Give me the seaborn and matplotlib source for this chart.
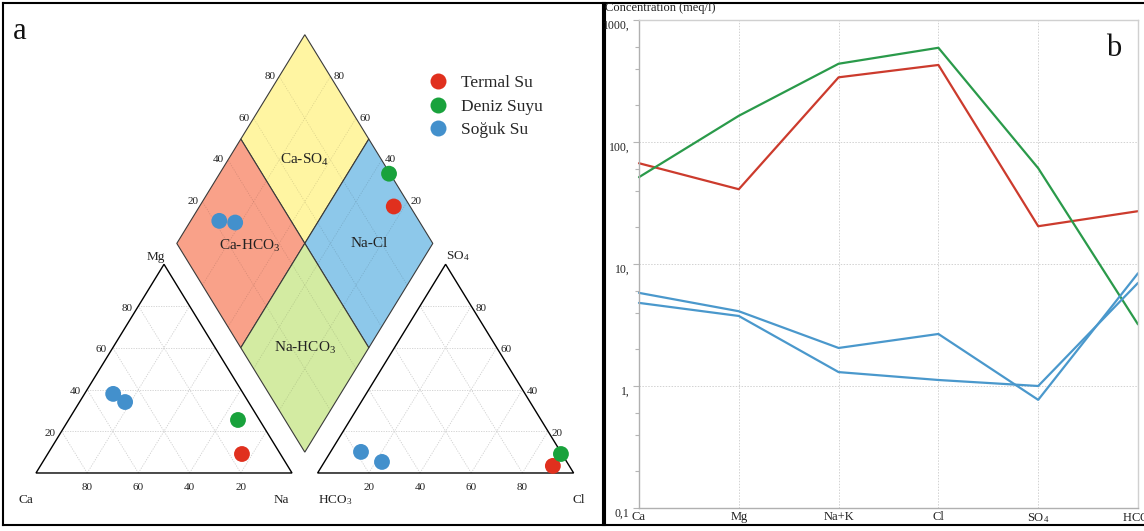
import numpy as np
import pandas as pd
import matplotlib
matplotlib.use("Agg")
import matplotlib.pyplot as plt
import seaborn as sns
from matplotlib.patches import Polygon
from matplotlib.lines import Line2D
from matplotlib.ticker import FixedLocator, FixedFormatter, LogLocator, NullFormatter

sns.set_theme(style="white")
plt.rcParams["font.family"] = ["Liberation Serif", "DejaVu Serif"]
plt.rcParams["mathtext.fontset"] = "custom"
plt.rcParams["mathtext.rm"] = "Liberation Serif"
plt.rcParams["mathtext.it"] = "Liberation Serif:italic"
plt.rcParams["mathtext.bf"] = "Liberation Serif:bold"

# ---------------------------------------------------------------- data
groups = ["Termal Su", "Deniz Suyu", "Soğuk Su"]

# Schoeller diagram, concentrations in meq/l
ions = ["Ca", "Mg", "Na+K", "Cl", "SO$_4$", "HCO$_3$"]
termal_meq = [67.0, 41.0, 339.0, 428.0, 20.4, 27.1]
deniz_meq = [51.5, 164.0, 438.0, 592.0, 61.0, 3.2]
soguk1_meq = [5.8, 4.1, 2.05, 2.67, 0.77, 8.4]
soguk2_meq = [4.8, 3.75, 1.30, 1.12, 1.00, 7.0]

# Piper diagram, percentages of total cations / anions
piper_groups = ["Termal Su", "Deniz Suyu", "Soğuk Su", "Soğuk Su"]
ca_pct = [15.0, 8.4, 48.2, 50.9]
mg_pct = [9.1, 25.4, 34.0, 37.9]
na_pct = [75.9, 66.2, 17.8, 11.2]
hco3_pct = [6.4, 0.4, 72.2, 78.0]
so4_pct = [3.4, 9.1, 5.3, 10.1]
cl_pct = [90.2, 90.5, 22.5, 11.9]

grid_pct = [20, 40, 60, 80]

dot_colors = {"Termal Su": "#E0301E", "Deniz Suyu": "#19A23C", "Soğuk Su": "#4390CC"}
line_colors = {"Termal Su": "#CC3B2D", "Deniz Suyu": "#2A9A4A", "Soğuk Su": "#4A98CC"}
field_colors = {"Ca-SO$_4$": "#FFF5A2", "Ca-HCO$_3$": "#F9A189",
                "Na-Cl": "#8DC8EA", "Na-HCO$_3$": "#D3EBA2"}

# ---------------------------------------------------------------- Piper geometry
H = np.sqrt(3) / 2
GAP = 0.1
AX0 = 1 + GAP  # left corner of the anion triangle


def cation_xy(mg, na):
    return na + mg / 2, mg * H


def anion_xy(so4, cl):
    return AX0 + cl + so4 / 2, so4 * H


def diamond_xy(a, b):
    # a = (Ca+Mg) fraction, b = (SO4+Cl) fraction
    return 1 + GAP / 2 - a / 2 + b / 2, GAP * H + H * (a + b)


W, HP = 1144, 531


def box(x0, y0, x1, y1):
    return [x0 / W, 1 - y1 / HP, (x1 - x0) / W, (y1 - y0) / HP]


fig = plt.figure(figsize=(11.44, 5.31), dpi=100)

# ---------------------------------------------------------------- panel a
ax = fig.add_axes(box(3, 3, 603, 525))
ax.set_xlim(-0.1289, 2.2148)
ax.set_ylim(-0.2158, 1.9502)
ax.set_xticks([])
ax.set_yticks([])
for s in ax.spines.values():
    s.set_color("black")
    s.set_linewidth(1.5)

gcol = "#cfcfcf"
gkw = dict(color=gcol, lw=0.6, ls=(0, (1.5, 1.5)), zorder=1)

# triangle grids
for p in np.array(grid_pct) / 100:
    for x0 in (0, AX0):
        ax.plot([x0 + p / 2, x0 + 1 - p / 2], [p * H, p * H], **gkw)
        ax.plot([x0 + p, x0 + p + (1 - p) / 2], [0, (1 - p) * H], **gkw)
        ax.plot([x0 + 1 - p, x0 + (1 - p) / 2], [0, (1 - p) * H], **gkw)

# triangle outlines
for x0 in (0, AX0):
    ax.add_patch(Polygon([[x0, 0], [x0 + 1, 0], [x0 + 0.5, H]], closed=True,
                         fill=False, ec="black", lw=1.0, zorder=3))

# diamond fields
fields = {
    "Ca-SO$_4$": ((0.5, 1.0), (0.5, 1.0)),
    "Ca-HCO$_3$": ((0.5, 1.0), (0.0, 0.5)),
    "Na-Cl": ((0.0, 0.5), (0.5, 1.0)),
    "Na-HCO$_3$": ((0.0, 0.5), (0.0, 0.5)),
}
for name, ((a0, a1), (b0, b1)) in fields.items():
    pts = [diamond_xy(a0, b0), diamond_xy(a1, b0), diamond_xy(a1, b1), diamond_xy(a0, b1)]
    ax.add_patch(Polygon(pts, closed=True, fc=field_colors[name], ec="#3a3a3a",
                         lw=0.8, zorder=2))

# diamond grid
dgkw = dict(color="#000000", alpha=0.12, lw=0.6, ls=(0, (1.5, 1.5)), zorder=2.5)
for p in np.array(grid_pct) / 100:
    xs, ys = zip(diamond_xy(p, 0), diamond_xy(p, 1))
    ax.plot(xs, ys, **dgkw)
    xs, ys = zip(diamond_xy(0, p), diamond_xy(1, p))
    ax.plot(xs, ys, **dgkw)

label_pos = {"Ca-SO$_4$": (0.70, 0.70), "Ca-HCO$_3$": (0.71, 0.28),
             "Na-Cl": (0.25, 0.75), "Na-HCO$_3$": (0.25, 0.25)}
for name, (a, b) in label_pos.items():
    x, y = diamond_xy(a, b)
    ax.text(x, y, name, ha="center", va="center", fontsize=11, color="#222222", zorder=4)

# axis numbers
tk = dict(fontsize=8, color="#222222", zorder=4)
dx, dy = 1 / 256, 1 / 241  # one pixel in data units
for v in grid_pct:
    p = v / 100
    # cation triangle: Ca along base, Mg along left side
    ax.text(1 - p, -15 * dy, str(v), ha="center", va="center", **tk)
    x, y = cation_xy(p, 0)
    ax.text(x - 6 * dx, y - 2 * dy, str(v), ha="right", va="center", **tk)
    # anion triangle: Cl along base, SO4 along right side
    ax.text(AX0 + p, -15 * dy, str(v), ha="center", va="center", **tk)
    x, y = anion_xy(p, 1 - p)
    ax.text(x + 4 * dx, y - 2 * dy, str(v), ha="left", va="center", **tk)
    # diamond upper edges
    x, y = diamond_xy(1, p)
    ax.text(x - 4 * dx, y, str(v), ha="right", va="center", **tk)
    x, y = diamond_xy(p, 1)
    ax.text(x + 3 * dx, y, str(v), ha="left", va="center", **tk)

ck = dict(fontsize=9.5, color="#222222", zorder=4)
ax.text(0.5 - 8 * dx, H + 1 * dy, "Mg", ha="center", va="bottom", **ck)
ax.text(AX0 + 0.5, H + 1 * dy, "SO$_4$", ha="left", va="bottom", **ck)
ax.text(-0.04, -27 * dy, "Ca", ha="center", va="center", **ck)
ax.text(0.96, -27 * dy, "Na", ha="center", va="center", **ck)
ax.text(AX0, -27 * dy, "HCO$_3$", ha="left", va="center", **ck)
ax.text(AX0 + 1.02, -27 * dy, "Cl", ha="center", va="center", **ck)

# sample points
mg = np.array(mg_pct) / 100
na = np.array(na_pct) / 100
so4 = np.array(so4_pct) / 100
cl = np.array(cl_pct) / 100
hco3 = np.array(hco3_pct) / 100
cx, cy = cation_xy(mg, na)
axx, axy = anion_xy(so4, cl)
dxp, dyp = diamond_xy(1 - na, 1 - hco3)
pts = pd.DataFrame({
    "x": np.concatenate([cx, axx, dxp]),
    "y": np.concatenate([cy, axy, dyp]),
    "group": piper_groups * 3,
})
sns.scatterplot(data=pts, x="x", y="y", hue="group", palette=dot_colors, s=130,
                linewidth=0, legend=False, ax=ax, zorder=6)
ax.set_xlabel("")
ax.set_ylabel("")

handles = [Line2D([], [], marker="o", ls="", color=dot_colors[g], markersize=11.5,
                  markeredgewidth=0) for g in groups]
ax.legend(handles, groups, loc="upper left", bbox_to_anchor=(0.711, 0.862),
          frameon=False, fontsize=12.5, handlelength=1.0, handletextpad=0.78,
          labelspacing=0.42, borderpad=0, borderaxespad=0)

ax.text(0.027, 0.945, "a", transform=ax.transAxes, fontsize=22, ha="center",
        va="center", color="#111111")

# ---------------------------------------------------------------- panel b
frame = fig.add_axes(box(605, 3, 1152, 525))
frame.set_xticks([])
frame.set_yticks([])
for s in frame.spines.values():
    s.set_color("black")
    s.set_linewidth(1.5)

bx = fig.add_axes(box(639, 20, 1138, 508))
bx.patch.set_alpha(0)
rows = []
series = [("Termal Su", "t", termal_meq), ("Deniz Suyu", "d", deniz_meq),
          ("Soğuk Su", "s1", soguk1_meq), ("Soğuk Su", "s2", soguk2_meq)]
for grp, sid, vals in series:
    for i, v in enumerate(vals):
        rows.append({"pos": i, "meq": v, "sample": sid, "group": grp})
sch = pd.DataFrame(rows)
sid_colors = {sid: line_colors[grp] for grp, sid, _ in series}
sns.lineplot(data=sch, x="pos", y="meq", hue="sample", palette=sid_colors,
             estimator=None, sort=False, lw=1.6, legend=False, ax=bx, clip_on=False)
bx.set_yscale("log")
bx.set_ylim(0.1, 1000)
bx.set_xlim(0, len(ions) - 1)
bx.set_xlabel("")
bx.set_ylabel("")

bx.yaxis.set_major_locator(FixedLocator([0.1, 1, 10, 100, 1000]))
bx.yaxis.set_major_formatter(FixedFormatter(["0,1", "1,", "10,", "100,", "1000,"]))
bx.yaxis.set_minor_locator(LogLocator(base=10, subs=[2, 4, 6]))
bx.yaxis.set_minor_formatter(NullFormatter())
bx.xaxis.set_major_locator(FixedLocator(range(len(ions))))
bx.xaxis.set_major_formatter(FixedFormatter(ions))
bx.tick_params(axis="y", which="major", direction="out", length=4, width=0.8,
               color="#b5b5b5", labelsize=8.5, pad=3, labelcolor="#222222", left=True)
bx.tick_params(axis="y", which="minor", direction="out", length=3, width=0.8,
               color="#b5b5b5", left=True)
bx.tick_params(axis="x", length=0, labelsize=9, pad=2, labelcolor="#222222")
for lbl in bx.get_yticklabels():
    lbl.set_verticalalignment("top")
    lbl.set_y(lbl.get_position()[1])
bx.grid(True, which="major", color="#d2d2d2", lw=0.7, ls=(0, (1.5, 1.5)))
for side in ["left", "bottom"]:
    bx.spines[side].set_color("#b0b0b0")
    bx.spines[side].set_linewidth(1.0)
for side in ["top", "right"]:
    bx.spines[side].set_color("#d0d0d0")
    bx.spines[side].set_linewidth(1.0)

fig.text(605 / W, 1 - 8 / HP, "Concentration (meq/l)", fontsize=9, ha="left",
         va="center", color="#222222")
fig.text(1114 / W, 1 - 48 / HP, "b", fontsize=22, ha="center", va="center",
         color="#111111")

fig.savefig("out.png", dpi=100)
